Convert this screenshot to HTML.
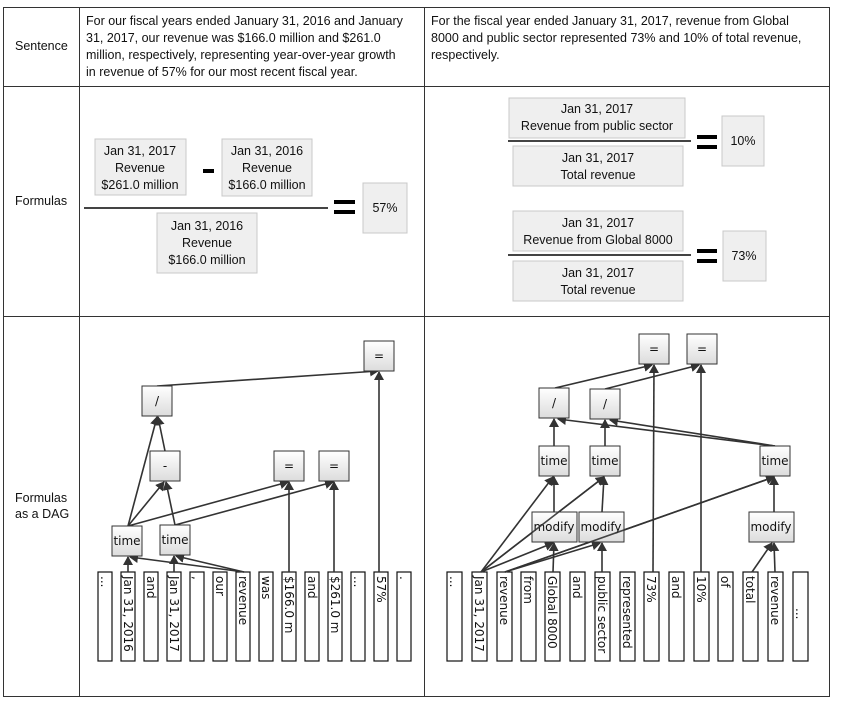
<!DOCTYPE html>
<html><head><meta charset="utf-8"><style>
body{margin:0;background:#fff;width:842px;height:703px;overflow:hidden}
svg{display:block}
.t{font-family:"Liberation Sans",sans-serif;font-size:12.5px;fill:#111}
.n{font-family:"DejaVu Sans","Liberation Sans",sans-serif;font-size:12px;fill:#111}
.tk{font-family:"DejaVu Sans","Liberation Sans",sans-serif;font-size:12px;fill:#111}
.fb{fill:#efefef;stroke:#c8c8c8;stroke-width:1}
.nd{fill:url(#g);stroke:#333;stroke-width:1}
.tb{fill:#fff;stroke:#111;stroke-width:1.2}
.e{stroke:#333;stroke-width:1.6;fill:none;marker-end:url(#a)}
</style></head><body>
<svg width="842" height="703" viewBox="0 0 842 703" xmlns="http://www.w3.org/2000/svg">
<defs>
<linearGradient id="g" x1="0" y1="0" x2="0" y2="1"><stop offset="0" stop-color="#fff"/><stop offset="1" stop-color="#dcdcdc"/></linearGradient>
<marker id="a" markerWidth="10" markerHeight="10" refX="8" refY="5" orient="auto" markerUnits="userSpaceOnUse"><path d="M0,0 L9,5 L0,10 z" fill="#333"/></marker>
</defs>
<g stroke="#333" stroke-width="1" fill="none">
<rect x="3.5" y="7.5" width="826" height="689"/>
<line x1="79.5" y1="7" x2="79.5" y2="697"/>
<line x1="424.5" y1="7" x2="424.5" y2="697"/>
<line x1="3" y1="86.5" x2="830" y2="86.5"/>
<line x1="3" y1="316.5" x2="830" y2="316.5"/>
</g>
<text class="t" x="15" y="50">Sentence</text>
<text class="t" x="15" y="205">Formulas</text>
<text class="t" x="15" y="502">Formulas</text>
<text class="t" x="15" y="518">as a DAG</text>
<text class="t" x="86" y="25">For our fiscal years ended January 31, 2016 and January</text>
<text class="t" x="86" y="42">31, 2017, our revenue was $166.0 million and $261.0</text>
<text class="t" x="86" y="59">million, respectively, representing year-over-year growth</text>
<text class="t" x="86" y="76">in revenue of 57% for our most recent fiscal year.</text>
<text class="t" x="431" y="25">For the fiscal year ended January 31, 2017, revenue from Global</text>
<text class="t" x="431" y="42">8000 and public sector represented 73% and 10% of total revenue,</text>
<text class="t" x="431" y="59">respectively.</text>

<rect class="fb" x="95" y="139" width="91" height="56"/>
<text class="t" text-anchor="middle" x="140" y="155">Jan 31, 2017</text>
<text class="t" text-anchor="middle" x="140" y="172">Revenue</text>
<text class="t" text-anchor="middle" x="140" y="189">$261.0 million</text>
<rect x="203" y="169" width="11" height="4" fill="#000"/>
<rect class="fb" x="222" y="139" width="90" height="57"/>
<text class="t" text-anchor="middle" x="267" y="155">Jan 31, 2016</text>
<text class="t" text-anchor="middle" x="267" y="172">Revenue</text>
<text class="t" text-anchor="middle" x="267" y="189">$166.0 million</text>
<rect x="84" y="207" width="244" height="2" fill="#444"/>
<rect class="fb" x="157" y="213" width="100" height="60"/>
<text class="t" text-anchor="middle" x="207" y="230">Jan 31, 2016</text>
<text class="t" text-anchor="middle" x="207" y="247">Revenue</text>
<text class="t" text-anchor="middle" x="207" y="264">$166.0 million</text>
<rect x="334" y="200" width="21" height="4" fill="#000"/>
<rect x="334" y="210" width="21" height="4" fill="#000"/>
<rect class="fb" x="363" y="183" width="44" height="50"/>
<text class="t" text-anchor="middle" x="385" y="212">57%</text>

<rect class="fb" x="509" y="98" width="176" height="40"/>
<text class="t" text-anchor="middle" x="597" y="113">Jan 31, 2017</text>
<text class="t" text-anchor="middle" x="597" y="130">Revenue from public sector</text>
<rect x="508" y="140" width="183" height="2" fill="#444"/>
<rect class="fb" x="513" y="146" width="170" height="40"/>
<text class="t" text-anchor="middle" x="598" y="162">Jan 31, 2017</text>
<text class="t" text-anchor="middle" x="598" y="179">Total revenue</text>
<rect x="697" y="135" width="20" height="4" fill="#000"/>
<rect x="697" y="145" width="20" height="4" fill="#000"/>
<rect class="fb" x="722" y="116" width="42" height="50"/>
<text class="t" text-anchor="middle" x="743" y="145">10%</text>

<rect class="fb" x="513" y="211" width="170" height="40"/>
<text class="t" text-anchor="middle" x="598" y="227">Jan 31, 2017</text>
<text class="t" text-anchor="middle" x="598" y="244">Revenue from Global 8000</text>
<rect x="508" y="254" width="183" height="2" fill="#444"/>
<rect class="fb" x="513" y="261" width="170" height="40"/>
<text class="t" text-anchor="middle" x="598" y="277">Jan 31, 2017</text>
<text class="t" text-anchor="middle" x="598" y="294">Total revenue</text>
<rect x="697" y="249" width="20" height="4" fill="#000"/>
<rect x="697" y="259" width="20" height="4" fill="#000"/>
<rect class="fb" x="723" y="231" width="43" height="50"/>
<text class="t" text-anchor="middle" x="744" y="260">73%</text>

<g>
<rect class="tb" x="98" y="572" width="14" height="89"/>
<rect class="tb" x="121" y="572" width="14" height="89"/>
<rect class="tb" x="144" y="572" width="14" height="89"/>
<rect class="tb" x="167" y="572" width="14" height="89"/>
<rect class="tb" x="190" y="572" width="14" height="89"/>
<rect class="tb" x="213" y="572" width="14" height="89"/>
<rect class="tb" x="236" y="572" width="14" height="89"/>
<rect class="tb" x="259" y="572" width="14" height="89"/>
<rect class="tb" x="282" y="572" width="14" height="89"/>
<rect class="tb" x="305" y="572" width="14" height="89"/>
<rect class="tb" x="328" y="572" width="14" height="89"/>
<rect class="tb" x="351" y="572" width="14" height="89"/>
<rect class="tb" x="374" y="572" width="14" height="89"/>
<rect class="tb" x="397" y="572" width="14" height="89"/>
</g>
<g class="tk">
<text transform="translate(101,576) rotate(90)">...</text>
<text transform="translate(124,576) rotate(90)">Jan 31, 2016</text>
<text transform="translate(147,576) rotate(90)">and</text>
<text transform="translate(170,576) rotate(90)">Jan 31, 2017</text>
<text transform="translate(193,576) rotate(90)">,</text>
<text transform="translate(216,576) rotate(90)">our</text>
<text transform="translate(239,576) rotate(90)">revenue</text>
<text transform="translate(262,576) rotate(90)">was</text>
<text transform="translate(285,576) rotate(90)">$166.0 m</text>
<text transform="translate(308,576) rotate(90)">and</text>
<text transform="translate(331,576) rotate(90)">$261.0 m</text>
<text transform="translate(354,576) rotate(90)">...</text>
<text transform="translate(377,576) rotate(90)">57%</text>
<text transform="translate(400,576) rotate(90)">.</text>
</g>
<g>
<line class="e" x1="128" y1="572" x2="128" y2="557"/>
<line class="e" x1="174" y1="572" x2="174" y2="556"/>
<line class="e" x1="244" y1="572" x2="130" y2="557"/>
<line class="e" x1="244" y1="572" x2="176" y2="556"/>
<line class="e" x1="128" y1="526" x2="157" y2="417"/>
<line class="e" x1="128" y1="526" x2="164" y2="482"/>
<line class="e" x1="175" y1="525" x2="166" y2="482"/>
<line class="e" x1="165" y1="451" x2="158" y2="417"/>
<line class="e" x1="128" y1="526" x2="288" y2="482"/>
<line class="e" x1="175" y1="525" x2="333" y2="482"/>
<line class="e" x1="289" y1="572" x2="289" y2="482"/>
<line class="e" x1="334" y1="572" x2="334" y2="482"/>
<line class="e" x1="379" y1="572" x2="379" y2="372"/>
<line class="e" x1="157" y1="386" x2="378" y2="371"/>
</g>
<rect class="nd" x="112" y="526" width="30" height="30"/><text class="n" text-anchor="middle" x="127" y="545">time</text>
<rect class="nd" x="160" y="525" width="30" height="30"/><text class="n" text-anchor="middle" x="175" y="544">time</text>
<rect class="nd" x="150" y="451" width="30" height="30"/><text class="n" text-anchor="middle" x="165" y="470">-</text>
<rect class="nd" x="142" y="386" width="30" height="30"/><text class="n" text-anchor="middle" x="157" y="405">/</text>
<rect class="nd" x="274" y="451" width="30" height="30"/><text class="n" text-anchor="middle" x="289" y="470">=</text>
<rect class="nd" x="319" y="451" width="30" height="30"/><text class="n" text-anchor="middle" x="334" y="470">=</text>
<rect class="nd" x="364" y="341" width="30" height="30"/><text class="n" text-anchor="middle" x="379" y="360">=</text>

<g>
<rect class="tb" x="447" y="572" width="15" height="89"/>
<rect class="tb" x="472" y="572" width="15" height="89"/>
<rect class="tb" x="497" y="572" width="15" height="89"/>
<rect class="tb" x="521" y="572" width="15" height="89"/>
<rect class="tb" x="545" y="572" width="15" height="89"/>
<rect class="tb" x="570" y="572" width="15" height="89"/>
<rect class="tb" x="595" y="572" width="15" height="89"/>
<rect class="tb" x="620" y="572" width="15" height="89"/>
<rect class="tb" x="644" y="572" width="15" height="89"/>
<rect class="tb" x="669" y="572" width="15" height="89"/>
<rect class="tb" x="694" y="572" width="15" height="89"/>
<rect class="tb" x="718" y="572" width="15" height="89"/>
<rect class="tb" x="743" y="572" width="15" height="89"/>
<rect class="tb" x="768" y="572" width="15" height="89"/>
<rect class="tb" x="793" y="572" width="15" height="89"/>
</g>
<g class="tk">
<text transform="translate(450,576) rotate(90)">...</text>
<text transform="translate(475,576) rotate(90)">Jan 31, 2017</text>
<text transform="translate(500,576) rotate(90)">revenue</text>
<text transform="translate(524,576) rotate(90)">from</text>
<text transform="translate(548,576) rotate(90)">Global 8000</text>
<text transform="translate(573,576) rotate(90)">and</text>
<text transform="translate(598,576) rotate(90)">public sector</text>
<text transform="translate(623,576) rotate(90)">represented</text>
<text transform="translate(647,576) rotate(90)">73%</text>
<text transform="translate(672,576) rotate(90)">and</text>
<text transform="translate(697,576) rotate(90)">10%</text>
<text transform="translate(721,576) rotate(90)">of</text>
<text transform="translate(746,576) rotate(90)">total</text>
<text transform="translate(771,576) rotate(90)">revenue</text>
<text transform="translate(796,608) rotate(90)">...</text>
</g>
<g>
<line class="e" x1="481" y1="572" x2="553" y2="477"/>
<line class="e" x1="481" y1="572" x2="604" y2="477"/>
<line class="e" x1="481" y1="572" x2="553" y2="543"/>
<line class="e" x1="505" y1="572" x2="774" y2="477"/>
<line class="e" x1="505" y1="572" x2="600" y2="543"/>
<line class="e" x1="553" y1="572" x2="554" y2="543"/>
<line class="e" x1="602" y1="572" x2="602" y2="543"/>
<line class="e" x1="554" y1="512" x2="554" y2="477"/>
<line class="e" x1="602" y1="512" x2="604" y2="477"/>
<line class="e" x1="554" y1="446" x2="554" y2="419"/>
<line class="e" x1="605" y1="446" x2="605" y2="420"/>
<line class="e" x1="775" y1="446" x2="558" y2="419"/>
<line class="e" x1="775" y1="446" x2="610" y2="420"/>
<line class="e" x1="752" y1="572" x2="772" y2="543"/>
<line class="e" x1="775" y1="572" x2="774" y2="543"/>
<line class="e" x1="774" y1="512" x2="774" y2="477"/>
<line class="e" x1="653" y1="572" x2="654" y2="365"/>
<line class="e" x1="701" y1="572" x2="701" y2="365"/>
<line class="e" x1="555" y1="388" x2="652" y2="365"/>
<line class="e" x1="605" y1="389" x2="699" y2="365"/>
</g>
<rect class="nd" x="639" y="334" width="30" height="30"/><text class="n" text-anchor="middle" x="654" y="353">=</text>
<rect class="nd" x="687" y="334" width="30" height="30"/><text class="n" text-anchor="middle" x="702" y="353">=</text>
<rect class="nd" x="539" y="388" width="30" height="30"/><text class="n" text-anchor="middle" x="554" y="407">/</text>
<rect class="nd" x="590" y="389" width="30" height="30"/><text class="n" text-anchor="middle" x="605" y="408">/</text>
<rect class="nd" x="539" y="446" width="30" height="30"/><text class="n" text-anchor="middle" x="554" y="465">time</text>
<rect class="nd" x="590" y="446" width="30" height="30"/><text class="n" text-anchor="middle" x="605" y="465">time</text>
<rect class="nd" x="760" y="446" width="30" height="30"/><text class="n" text-anchor="middle" x="775" y="465">time</text>
<rect class="nd" x="532" y="512" width="45" height="30"/><text class="n" text-anchor="middle" x="554" y="531">modify</text>
<rect class="nd" x="579" y="512" width="45" height="30"/><text class="n" text-anchor="middle" x="601" y="531">modify</text>
<rect class="nd" x="749" y="512" width="45" height="30"/><text class="n" text-anchor="middle" x="771" y="531">modify</text>
<line stroke="#333" stroke-width="1.6" x1="505" y1="572" x2="774" y2="477" opacity="0.9"/>
<line stroke="#333" stroke-width="1.6" x1="481" y1="572" x2="604" y2="477" opacity="0.9"/>
</svg>
</body></html>
